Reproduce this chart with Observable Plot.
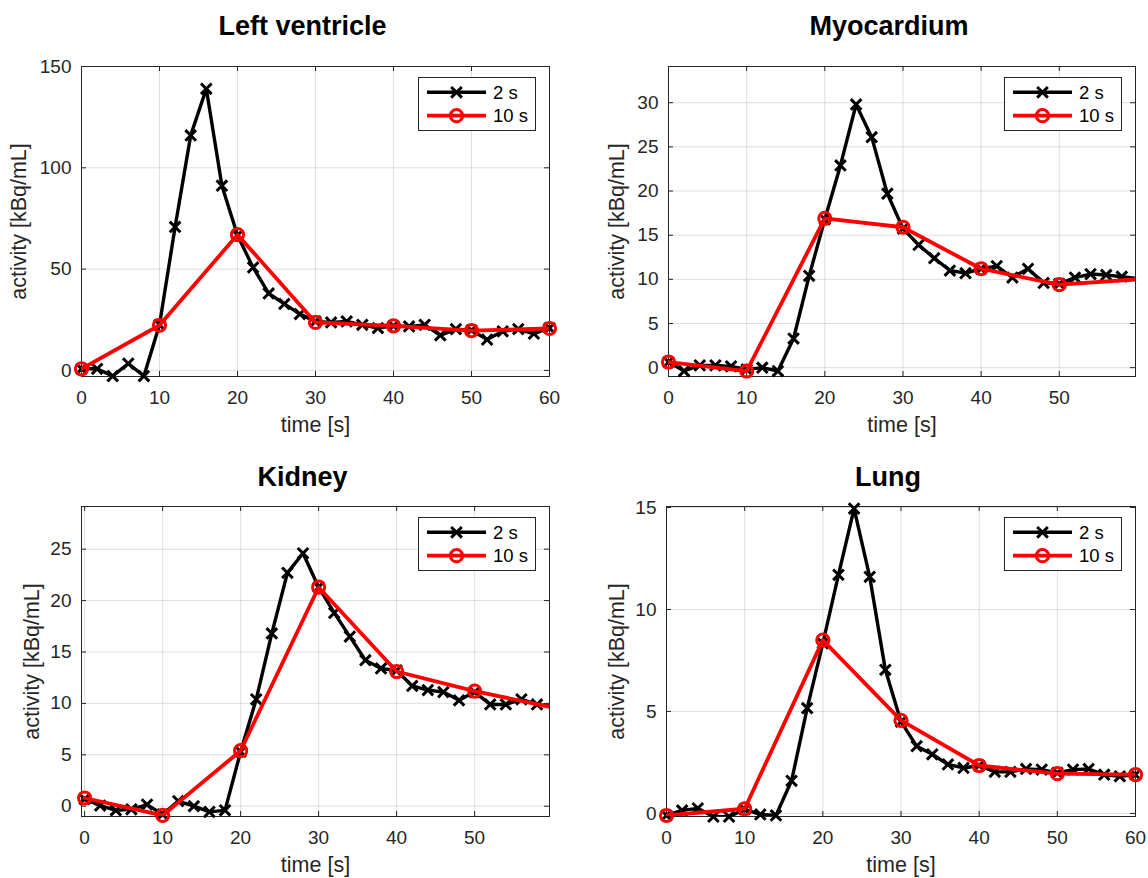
<!DOCTYPE html>
<html>
<head>
<meta charset="utf-8">
<script src="https://cdn.jsdelivr.net/npm/d3@7"></script>
<script src="https://cdn.jsdelivr.net/npm/@observablehq/plot@0.6"></script>
<style>
  html, body { margin: 0; padding: 0; background: #fff; }
  #root { position: relative; width: 1148px; height: 878px; overflow: hidden; }
  .panel { position: absolute; width: 574px; height: 439px; }
  .panel svg { display: block; }
</style>
</head>
<body>
<div id="root"></div>
<script>
// ---------------- data ----------------
const timeFine = [0, 2, 4, 6, 8, 10, 12, 14, 16, 18, 20, 22, 24, 26, 28, 30, 32, 34, 36, 38, 40, 42, 44, 46, 48, 50, 52, 54, 56, 58, 60];
const timeCoarse = [0, 10, 20, 30, 40, 50, 60];
const seriesNames = ["2 s", "10 s"];
const panelTitles = ["Left ventricle", "Myocardium", "Kidney", "Lung"];
const xLabel = "time [s]";
const yLabel = "activity [kBq/mL]";

const lv2 = [0.8, 0.8, -2.8, 3.4, -2.8, 22.5, 70.8, 116, 139, 91.2, 66.7, 50.8, 38, 32.8, 27.8, 24.2, 23.7, 24.2, 22.5, 20.9, 22, 21.7, 22.5, 17.3, 20.4, 19.8, 15.2, 19.3, 20.4, 18.1, 20.9];
const lv10 = [0.8, 22.3, 67, 23.7, 22, 19.6, 20.7];

const myo2 = [0.64, -0.38, 0.26, 0.26, 0.15, -0.2, 0, -0.38, 3.3, 10.4, 16.8, 22.9, 29.8, 26.1, 19.7, 15.75, 13.9, 12.4, 11, 10.7, 11.2, 11.5, 10.2, 11.2, 9.6, 9.5, 10.2, 10.6, 10.5, 10.3, 10.1];
const myo10 = [0.64, -0.38, 16.9, 15.9, 11.2, 9.4, 10.0];

const kid2 = [0.7, 0.06, -0.4, -0.3, 0.16, -0.8, 0.5, 0, -0.55, -0.4, 5.3, 10.4, 16.8, 22.7, 24.6, 21.3, 18.8, 16.5, 14.2, 13.4, 13.2, 11.7, 11.3, 11.1, 10.3, 11.1, 9.9, 9.9, 10.4, 9.9, 9.7];
const kid10 = [0.8, -0.9, 5.4, 21.3, 13.1, 11.2, 9.6];

const lung2 = [-0.1, 0.15, 0.25, -0.16, -0.16, 0.2, -0.05, -0.1, 1.6, 5.16, 8.34, 11.7, 14.95, 11.6, 7.04, 4.5, 3.3, 2.9, 2.4, 2.23, 2.35, 2.04, 2.04, 2.18, 2.15, 1.99, 2.15, 2.18, 1.9, 1.82, 1.9];
const lung10 = [-0.1, 0.23, 8.5, 4.56, 2.35, 1.95, 1.9];

const xTicks = [0, 10, 20, 30, 40, 50, 60];
const yTicksLV = [0, 50, 100, 150];
const yTicksMyo = [0, 5, 10, 15, 20, 25, 30];
const yTicksKid = [0, 5, 10, 15, 20, 25];
const yTicksLung = [0, 5, 10, 15];

const fineSeries = [lv2, myo2, kid2, lung2];
const coarseSeries = [lv10, myo10, kid10, lung10];
const yTickSets = [yTicksLV, yTicksMyo, yTicksKid, yTicksLung];

// ---------------- layout / style ----------------
const FONT = "'Liberation Sans', Arial, Helvetica, sans-serif";
const AX = "#262626";
const layout = [
  {left: 0,   top: 0,   mL: 81, mR: 25, mT: 66, mB: 63, xDom: [0, 60],      yDom: [-3, 150],      yLabDx: -62, titleDy: -32},
  {left: 574, top: 0,   mL: 94, mR: 13, mT: 66, mB: 63, xDom: [0, 59.75],   yDom: [-1, 34.1],     yLabDx: -51, titleDy: -32},
  {left: 0,   top: 439, mL: 81, mR: 25, mT: 67, mB: 62, xDom: [-0.4, 59.6], yDom: [-1, 29.15],    yLabDx: -49, titleDy: -21},
  {left: 574, top: 439, mL: 92, mR: 13, mT: 67, mB: 62, xDom: [0, 60],      yDom: [-0.15, 15.05], yLabDx: -49, titleDy: -21}
];
const W = 574, H = 439;
const TIMES_R = 4.9, CIRCLE_R = 6.1;
const BLACK_W = 3.4, RED_W = 3.8;

function legendMark() {
  return (index, scales, values, dims) => {
    const bw = 118, bh = 54;
    const bx = dims.width - dims.marginRight - 13 - bw;
    const by = dims.marginTop + 11;
    const g = d3.create("svg:g").attr("transform", `translate(${bx},${by})`);
    g.append("rect").attr("x", 0.5).attr("y", 0.5).attr("width", bw - 1).attr("height", bh - 1)
      .attr("fill", "#fff").attr("stroke", AX).attr("stroke-width", 1);
    const rows = [15.3, 38.7];
    const colors = ["#000", "#ff0000"];
    seriesNames.forEach((name, k) => {
      const yy = rows[k];
      g.append("line").attr("x1", 9).attr("x2", 68).attr("y1", yy).attr("y2", yy)
        .attr("stroke", colors[k]).attr("stroke-width", k ? RED_W : BLACK_W);
      if (k === 0) {
        g.append("path").attr("d", d3.symbol(d3.symbolTimes, Math.PI * TIMES_R * TIMES_R)())
          .attr("transform", `translate(38.5,${yy})`)
          .attr("stroke", "#000").attr("stroke-width", 3).attr("fill", "none");
      } else {
        g.append("circle").attr("cx", 38.5).attr("cy", yy).attr("r", CIRCLE_R)
          .attr("stroke", "#ff0000").attr("stroke-width", 3).attr("fill", "none");
      }
      g.append("text").attr("x", 75).attr("y", yy).attr("dy", "0.36em")
        .attr("text-anchor", "start")
        .attr("font-size", 18.5).attr("font-family", FONT).attr("fill", "#000").text(name);
    });
    return g.node();
  };
}

function makePanel(i) {
  const L = layout[i];
  const fw = W - L.mL - L.mR, fh = H - L.mT - L.mB;
  const fine = timeFine.map((t, j) => ({t, v: fineSeries[i][j]}));
  const coarse = timeCoarse.map((t, j) => ({t, v: coarseSeries[i][j]}));
  const inX = d => d.t >= L.xDom[0] - 1e-9 && d.t <= L.xDom[1] + 1e-9;
  const xt = xTicks.filter(t => t >= L.xDom[0] && t <= L.xDom[1]);
  const yt = yTickSets[i];
  const tick = 5;
  return Plot.plot({
    width: W, height: H,
    marginLeft: L.mL, marginRight: L.mR, marginTop: L.mT, marginBottom: L.mB,
    x: {domain: L.xDom},
    y: {domain: L.yDom},
    style: {fontFamily: FONT, background: "transparent", color: AX, overflow: "visible"},
    marks: [
      Plot.gridX(xt, {x: d => d, stroke: AX, strokeOpacity: 0.15, strokeWidth: 1}),
      Plot.gridY(yt, {y: d => d, stroke: AX, strokeOpacity: 0.15, strokeWidth: 1}),
      Plot.frame({stroke: AX, strokeWidth: 1}),
      Plot.tickX(xt, {x: d => d, insetTop: fh - tick, stroke: AX, strokeWidth: 1}),
      Plot.tickX(xt, {x: d => d, insetBottom: fh - tick, stroke: AX, strokeWidth: 1}),
      Plot.tickY(yt, {y: d => d, insetRight: fw - tick, stroke: AX, strokeWidth: 1}),
      Plot.tickY(yt, {y: d => d, insetLeft: fw - tick, stroke: AX, strokeWidth: 1}),
      Plot.axisX(xt, {tickSize: 0, tickPadding: 14, fontSize: 19, label: null, fill: AX}),
      Plot.axisY(yt, {tickSize: 0, tickPadding: 10, fontSize: 19, label: null, fill: AX}),
      Plot.line(fine, {x: "t", y: "v", stroke: "#000", strokeWidth: BLACK_W, clip: true, strokeLinejoin: "round"}),
      Plot.dot(fine.filter(inX), {x: "t", y: "v", symbol: "times", r: TIMES_R, stroke: "#000", strokeWidth: 3}),
      Plot.line(coarse, {x: "t", y: "v", stroke: "#ff0000", strokeWidth: RED_W, clip: true, strokeLinejoin: "round"}),
      Plot.dot(coarse.filter(inX), {x: "t", y: "v", symbol: "circle", r: CIRCLE_R, stroke: "#ff0000", strokeWidth: 3, fill: "none"}),
      Plot.text([panelTitles[i]], {text: d => d, frameAnchor: "top", dx: -13, dy: L.titleDy, lineAnchor: "bottom",
        textAnchor: "middle", fontSize: 27, fontWeight: "bold", fill: "#000"}),
      Plot.text([xLabel], {text: d => d, frameAnchor: "bottom", dy: 49, lineAnchor: "middle", textAnchor: "middle", fontSize: 21.5, fill: AX}),
      Plot.text([yLabel], {text: d => d, frameAnchor: "left", dx: L.yLabDx, rotate: -90, lineAnchor: "middle", textAnchor: "middle", fontSize: 21.5, fill: AX}),
      legendMark()
    ]
  });
}

const root = document.getElementById("root");
layout.forEach((L, i) => {
  const div = document.createElement("div");
  div.className = "panel";
  div.style.left = L.left + "px";
  div.style.top = L.top + "px";
  div.appendChild(makePanel(i));
  root.appendChild(div);
});
</script>
</body>
</html>
